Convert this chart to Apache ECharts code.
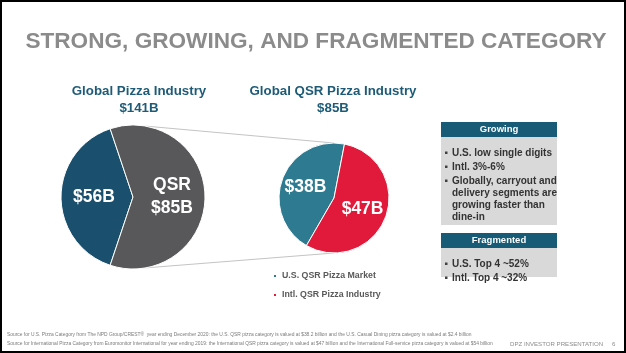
<!DOCTYPE html>
<html lang="en">

<head>
    <meta charset="UTF-8">
    <title>Strong, growing, and fragmented category</title>
    <script src="https://cdn.jsdelivr.net/npm/echarts@6/dist/echarts.min.js"></script>
    <style>
        html, body { margin: 0; padding: 0; background: #fff; }
    </style>
</head>

<body>
    <div id="main" style="width: 626px;height:353px;"></div>
    <script type="text/javascript">
        // data
        var globalNames = ['Other Pizza', 'QSR'];
        var globalValues = [56, 85];
        var qsrNames = ['U.S. QSR Pizza Market', 'Intl. QSR Pizza Industry'];
        var qsrValues = [38, 47];

        var growingBullets = [
            ['U.S. low single digits'],
            ['Intl. 3%-6%'],
            ['Globally, carryout and', 'delivery segments are', 'growing faster than', 'dine-in']
        ];
        var fragmentedBullets = [
            ['U.S. Top 4 ~52%'],
            ['Intl. Top 4 ~32%']
        ];
        var footnotes = [
            'Source for U.S. Pizza Category from The NPD Group/CREST\u00ae  year ending December 2020: the U.S. QSR pizza category is valued at $38.2 billion and the U.S. Casual Dining pizza category is valued at $2.4 billion',
            'Source for International Pizza Category from Euromonitor International for year ending 2019: the International QSR pizza category is valued at $47 billion and the International Full-service pizza category is valued at $54 billion'
        ];

        var sans = '"Liberation Sans", Arial, sans-serif';

        var globalTotal = globalValues[0] + globalValues[1];
        var qsrTotal = qsrValues[0] + qsrValues[1];

        // pie geometry
        var leftC = [133, 197], leftR = 72;
        var rightC = [334, 198], rightR = 55;

        var chartDom = document.getElementById('main');
        var myChart = echarts.init(chartDom);

        var graphic = [];

        // frame
        graphic.push({
            type: 'rect', shape: { x: 1, y: 1, width: 624, height: 351 },
            style: { fill: 'none', stroke: '#000', lineWidth: 2 }, z: 100
        });

        graphic.push({
            type: 'text', x: 316, y: 42,
            style: {
                text: 'STRONG, GROWING, AND FRAGMENTED CATEGORY', fill: '#8b8b8b',
                font: 'bold 22.6px ' + sans, textAlign: 'center', textVerticalAlign: 'middle'
            }
        });

        // pie headings
        var heads = [
            [139, 'Global Pizza Industry', '$' + globalTotal + 'B'],
            [333, 'Global QSR Pizza Industry', '$' + qsrTotal + 'B']
        ];
        heads.forEach(function (h) {
            graphic.push({
                type: 'text', x: h[0], y: 91,
                style: { text: h[1], fill: '#1e5b76', font: 'bold 13.3px ' + sans, textAlign: 'center', textVerticalAlign: 'middle' }
            });
            graphic.push({
                type: 'text', x: h[0], y: 108,
                style: { text: h[2], fill: '#1e5b76', font: 'bold 13.3px ' + sans, textAlign: 'center', textVerticalAlign: 'middle' }
            });
        });

        // connector lines from the QSR slice to the second pie
        var a = 80 * Math.PI / 180;
        graphic.push({
            type: 'line', z: -1,
            shape: { x1: leftC[0] + leftR * Math.cos(a), y1: leftC[1] - leftR * Math.sin(a), x2: rightC[0], y2: rightC[1] - rightR },
            style: { stroke: '#c4c4c4', lineWidth: 1 }
        });
        graphic.push({
            type: 'line', z: -1,
            shape: { x1: leftC[0] + leftR * Math.cos(a), y1: leftC[1] + leftR * Math.sin(a), x2: rightC[0], y2: rightC[1] + rightR },
            style: { stroke: '#c4c4c4', lineWidth: 1 }
        });

        // side boxes
        function addBox(title, bullets, top, bodyH) {
            graphic.push({ type: 'rect', shape: { x: 441, y: top, width: 116, height: 15 }, style: { fill: '#175b76' } });
            graphic.push({ type: 'rect', shape: { x: 441, y: top + 15, width: 116, height: bodyH }, style: { fill: '#d9d9d9' } });
            graphic.push({
                type: 'text', x: 499, y: top + 7.5,
                style: { text: title, fill: '#fff', font: 'bold 9.5px ' + sans, textAlign: 'center', textVerticalAlign: 'middle' }
            });
            var y = top + 31;
            for (var i = 0; i < bullets.length; i++) {
                graphic.push({
                    type: 'rect', shape: { x: 445, y: y - 1.5, width: 2.5, height: 2.5 },
                    style: { fill: '#404040' }
                });
                for (var j = 0; j < bullets[i].length; j++) {
                    graphic.push({
                        type: 'text', x: 452, y: y,
                        style: { text: bullets[i][j], fill: '#333', font: 'bold 10px ' + sans, textVerticalAlign: 'middle' }
                    });
                    y += 12;
                }
                y += 2;
            }
        }
        addBox('Growing', growingBullets, 122, 88);
        addBox('Fragmented', fragmentedBullets, 233, 29);

        // footer
        for (var k = 0; k < footnotes.length; k++) {
            graphic.push({
                type: 'text', x: 7, y: 335 + k * 9,
                style: { text: footnotes[k], fill: '#7a7a7a', font: '4.9px ' + sans, textVerticalAlign: 'middle' }
            });
        }
        graphic.push({
            type: 'text', x: 510, y: 344,
            style: { text: 'DPZ INVESTOR PRESENTATION', fill: '#8c8c8c', font: '6.1px ' + sans, textVerticalAlign: 'middle' }
        });
        graphic.push({
            type: 'text', x: 612, y: 344,
            style: { text: '6', fill: '#8c8c8c', font: '6.1px ' + sans, textVerticalAlign: 'middle' }
        });

        var option = {
            animation: false,
            backgroundColor: '#fff',
            legend: {
                data: qsrNames,
                orient: 'vertical',
                left: 272,
                top: 270,
                padding: 0,
                icon: 'rect',
                itemWidth: 4,
                itemHeight: 4,
                itemGap: 7,
                itemTextGap: 5,
                selectedMode: false,
                textStyle: { color: '#595959', fontSize: 8.8, fontWeight: 'bold', fontFamily: sans, lineHeight: 12 }
            },
            graphic: graphic,
            series: [{
                name: 'Global Pizza Industry',
                type: 'pie',
                center: leftC,
                radius: leftR,
                clockwise: false,
                startAngle: 180 - globalValues[0] / globalTotal * 180,
                color: ['#1b4f6e', '#58585b'],
                itemStyle: { borderColor: '#fff', borderWidth: 1 },
                label: {
                    position: 'inside',
                    color: '#fff',
                    fontFamily: sans,
                    fontWeight: 'bold',
                    fontSize: 17.5,
                    lineHeight: 23,
                    formatter: function (p) {
                        return p.name === 'QSR' ? 'QSR\n$' + p.value + 'B' : '$' + p.value + 'B';
                    }
                },
                labelLine: { show: false },
                emphasis: { disabled: true },
                data: globalNames.map(function (n, i) { return { name: n, value: globalValues[i] }; })
            }, {
                name: 'Global QSR Pizza Industry',
                type: 'pie',
                center: rightC,
                radius: rightR,
                clockwise: false,
                startAngle: 79,
                color: ['#2e7b91', '#e1193a'],
                itemStyle: { borderColor: '#fff', borderWidth: 1 },
                label: {
                    position: 'inside',
                    color: '#fff',
                    fontFamily: sans,
                    fontWeight: 'bold',
                    fontSize: 17.5,
                    formatter: function (p) { return '$' + p.value + 'B'; }
                },
                labelLine: { show: false },
                emphasis: { disabled: true },
                data: qsrNames.map(function (n, i) { return { name: n, value: qsrValues[i] }; })
            }]
        };

        option && myChart.setOption(option);
    </script>
</body>

</html>
